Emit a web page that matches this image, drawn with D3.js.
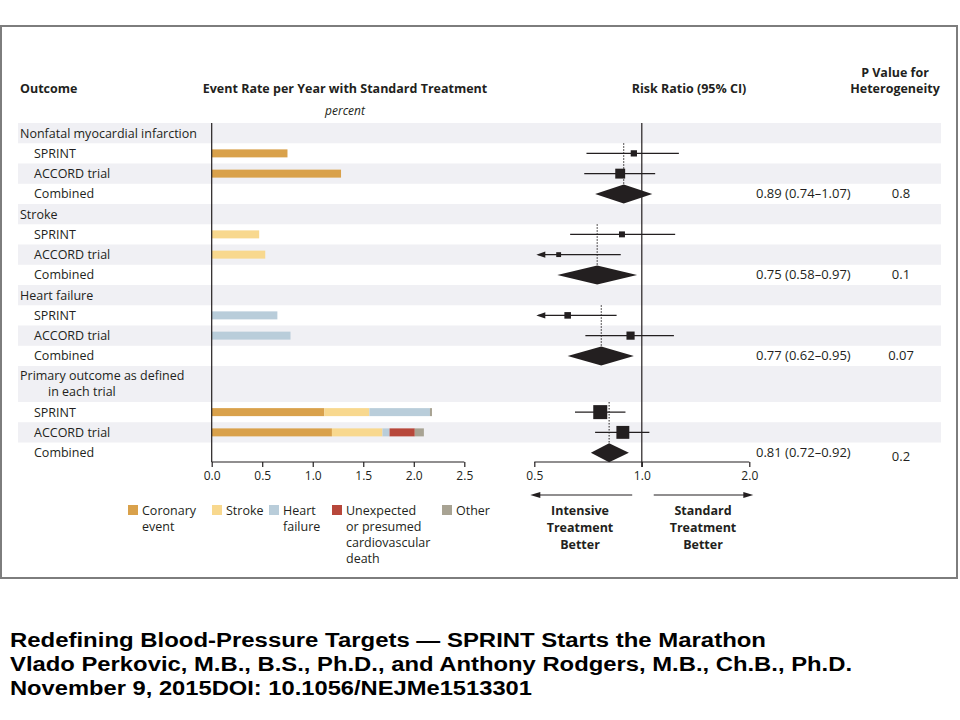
<!DOCTYPE html>
<html>
<head>
<meta charset="utf-8">
<script src="https://cdn.jsdelivr.net/npm/d3@7"></script>
<style>
  body { margin: 0; background: #fff; }
  svg text { font-family: "Open Sans", Lato, sans-serif; fill: #231f20; }
  svg text.caption { font-family: "Liberation Sans", Arial, sans-serif; font-weight: bold; fill: #000; }
</style>
</head>
<body>
<script>
// ---- data ----
var outcomes = ["Nonfatal myocardial infarction", "Stroke", "Heart failure", "Primary outcome as defined\nin each trial"];
var trials = ["SPRINT", "ACCORD trial", "Combined"];
var components = ["Coronary\nevent", "Stroke", "Heart\nfailure", "Unexpected\nor presumed\ncardiovascular\ndeath", "Other"];
var componentColors = ["#d9a14b", "#f8d88e", "#b9cdda", "#b7473a", "#a8a393"];

// event rate per year, standard treatment (percent), per outcome -> [SPRINT, ACCORD]
// single outcomes use one component, the primary outcome is stacked
var outcomeComponent = [0, 1, 2, null];
var singleRates = [[0.75, 1.28], [0.47, 0.53], [0.65, 0.78], null];
var primarySprint = [1.115, 0.445, 0.60, 0.0, 0.02];
var primaryAccord = [1.19, 0.50, 0.07, 0.25, 0.09];

// risk ratios per outcome -> [SPRINT, ACCORD, Combined]
var rrEstimate = [[0.95, 0.87, 0.89], [0.88, 0.585, 0.75], [0.62, 0.93, 0.77], [0.765, 0.885, 0.81]];
var rrLower    = [[0.70, 0.69, 0.74], [0.63, 0.45, 0.58], [0.45, 0.695, 0.62], [0.65, 0.74, 0.72]];
var rrUpper    = [[1.27, 1.09, 1.07], [1.24, 0.873, 0.97], [0.85, 1.23, 0.95], [0.90, 1.05, 0.92]];
var studyWeights = [[20, 50], [18, 12], [22, 34], [100, 85]];
var combinedLabels = ["0.89 (0.74\u20131.07)", "0.75 (0.58\u20130.97)", "0.77 (0.62\u20130.95)", "0.81 (0.72\u20130.92)"];
var pHeterogeneity = ["0.8", "0.1", "0.07", "0.2"];

var rateTicks = [0, 0.5, 1.0, 1.5, 2.0, 2.5];
var rrTicks = [0.5, 1.0, 2.0];

var captionLines = [
	"Redefining Blood-Pressure Targets \u2014 SPRINT Starts the Marathon",
	"Vlado Perkovic, M.B., B.S., Ph.D., and Anthony Rodgers, M.B., Ch.B., Ph.D.",
	"November 9, 2015DOI: 10.1056/NEJMe1513301"
];
var captionWidths = [756, 842, 522];

// ---- layout ----
var ink = "#231f20";
var rowH = 20.25, tallRowH = 36, rowsTop = 123;

var svg = d3.select("body").append("svg").attr("width", 960).attr("height", 720);

svg.append("rect")
	.attr("x", 1).attr("y", 26).attr("width", 956).attr("height", 552)
	.attr("fill", "#fff").attr("stroke", "#7d7d7d").attr("stroke-width", 2);

// build the row list
var rows = [];
var yy = rowsTop;
outcomes.forEach(function(o, i) {
	var h = o.indexOf("\n") >= 0 ? tallRowH : rowH;
	rows.push({ kind: "outcome", i: i, y0: yy, h: h, label: o });
	yy += h;
	trials.forEach(function(t, j) {
		rows.push({ kind: "trial", i: i, j: j, y0: yy, h: rowH, label: t });
		yy += rowH;
	});
});
var rowsBottom = yy - 0.75;

var xRate = d3.scaleLinear().domain([0, 2.5]).range([211.7, 464.3]);
var xRR = d3.scaleLog().domain([0.5, 2]).range([534.3, 749.3]);
var sq = d3.scaleSqrt().domain([0, 100]).range([0, 14]);

// shaded bands
svg.append("g").selectAll("rect")
	.data(rows.filter(function(r, k) { return k % 2 === 0; }))
	.enter().append("rect")
	.attr("x", 18).attr("width", 923)
	.attr("y", function(r) { return r.y0; })
	.attr("height", function(r) { return r.h; })
	.attr("fill", "#f0f0f4");

// headers
var hdr = svg.append("g").attr("font-weight", "bold").attr("font-size", 12.5);
hdr.append("text").attr("x", 20).attr("y", 93).text("Outcome");
hdr.append("text").attr("x", 345).attr("y", 93).attr("text-anchor", "middle").text("Event Rate per Year with Standard Treatment");
hdr.append("text").attr("x", 689).attr("y", 93).attr("text-anchor", "middle").text("Risk Ratio (95% CI)");
hdr.append("text").attr("x", 895).attr("y", 77).attr("text-anchor", "middle").text("P Value for");
hdr.append("text").attr("x", 895).attr("y", 93).attr("text-anchor", "middle").text("Heterogeneity");
svg.append("text").attr("x", 345).attr("y", 115).attr("text-anchor", "middle")
	.attr("font-size", 12).attr("font-style", "italic").text("percent");

// row labels
var lab = svg.append("g").attr("font-size", 12.5);
rows.forEach(function(r) {
	var lines = r.label.split("\n");
	if (lines.length > 1) {
		lines.forEach(function(l, k) {
			lab.append("text").attr("x", k === 0 ? 20 : 48).attr("y", r.y0 + 14 + k * 16).text(l);
		});
	} else {
		lab.append("text").attr("x", r.kind === "outcome" ? 20 : 34)
			.attr("y", r.y0 + r.h / 2 + 4.5).text(r.label);
	}
});

// bars
var bars = svg.append("g");
rows.filter(function(r) { return r.kind === "trial" && r.j < 2; }).forEach(function(r) {
	var cy = r.y0 + r.h / 2;
	var segs;
	if (outcomeComponent[r.i] !== null) {
		segs = [{ c: outcomeComponent[r.i], a: 0, b: singleRates[r.i][r.j] }];
	} else {
		var vals = r.j === 0 ? primarySprint : primaryAccord;
		var acc = 0;
		segs = vals.map(function(v, c) { var s = { c: c, a: acc, b: acc + v }; acc += v; return s; });
	}
	bars.selectAll(null).data(segs.filter(function(s) { return s.b > s.a; }))
		.enter().append("rect")
		.attr("x", function(s) { return xRate(s.a); })
		.attr("width", function(s) { return xRate(s.b) - xRate(s.a); })
		.attr("y", cy - 4).attr("height", 8)
		.attr("fill", function(s) { return componentColors[s.c]; });
});

// bar axes
svg.append("line").attr("x1", xRate(0)).attr("x2", xRate(0)).attr("y1", rowsTop).attr("y2", rowsBottom)
	.attr("stroke", ink).attr("stroke-width", 1.2);
var axRate = svg.append("g").attr("transform", "translate(0," + rowsBottom + ")")
	.call(d3.axisBottom(xRate).tickValues(rateTicks).tickFormat(d3.format(".1f")).tickSize(5).tickPadding(4));
axRate.select(".domain").attr("d", "M" + xRate(0) + ",0H" + xRate(2.5)).attr("stroke", ink).attr("stroke-width", 1.2);
axRate.selectAll(".tick line").attr("stroke", ink).attr("stroke-width", 1.2);
axRate.selectAll("text").attr("font-size", 12).attr("font-family", "'Open Sans', sans-serif").attr("fill", ink);

// forest plot
var forest = svg.append("g");
forest.append("line").attr("x1", xRR(1)).attr("x2", xRR(1)).attr("y1", rowsTop).attr("y2", rowsBottom + 5)
	.attr("stroke", ink).attr("stroke-width", 1.2);

rows.filter(function(r) { return r.kind === "trial"; }).forEach(function(r) {
	var cy = r.y0 + r.h / 2;
	var est = rrEstimate[r.i][r.j], lo = rrLower[r.i][r.j], hi = rrUpper[r.i][r.j];
	if (r.j < 2) {
		var loC = Math.max(lo, 0.5);
		forest.append("line").attr("x1", xRR(loC) + (lo < 0.5 ? 4 : 0)).attr("x2", xRR(hi))
			.attr("y1", cy).attr("y2", cy).attr("stroke", ink).attr("stroke-width", 1.1);
		if (lo < 0.5) {
			var tip = xRR(0.5) + 2;
			forest.append("path")
				.attr("d", "M" + tip + "," + cy + "L" + (tip + 9) + "," + (cy - 3.2) + "L" + (tip + 9) + "," + (cy + 3.2) + "Z")
				.attr("fill", ink);
		}
		var s = sq(studyWeights[r.i][r.j]);
		forest.append("rect").attr("x", xRR(est) - s / 2).attr("y", cy - s / 2)
			.attr("width", s).attr("height", s).attr("fill", ink);
	} else {
		var dh = 9.5;
		var firstTrial = rows.filter(function(q) { return q.kind === "trial" && q.i === r.i && q.j === 0; })[0];
		forest.append("line").attr("x1", xRR(est)).attr("x2", xRR(est))
			.attr("y1", firstTrial.y0).attr("y2", cy - dh)
			.attr("stroke", ink).attr("stroke-width", 1).attr("stroke-dasharray", "1.5,1.5");
		forest.append("path")
			.attr("d", "M" + xRR(lo) + "," + cy + "L" + xRR(est) + "," + (cy - dh) + "L" + xRR(hi) + "," + cy +
				"L" + xRR(est) + "," + (cy + dh) + "Z")
			.attr("fill", ink);
		svg.append("text").attr("x", 756).attr("y", cy + 4.5).attr("font-size", 13).text(combinedLabels[r.i]);
		svg.append("text").attr("x", 901).attr("y", cy + 4.5 + (r.i === 3 ? 4 : 0)).attr("font-size", 13)
			.attr("text-anchor", "middle").text(pHeterogeneity[r.i]);
	}
});

var axRR = svg.append("g").attr("transform", "translate(0," + rowsBottom + ")")
	.call(d3.axisBottom(xRR).tickValues(rrTicks).tickFormat(d3.format(".1f")).tickSize(5).tickPadding(4));
axRR.select(".domain").attr("d", "M" + xRR(0.5) + ",0H" + xRR(2)).attr("stroke", ink).attr("stroke-width", 1.2);
axRR.selectAll(".tick line").attr("stroke", ink).attr("stroke-width", 1.2);
axRR.selectAll("text").attr("font-size", 12).attr("font-family", "'Open Sans', sans-serif").attr("fill", ink);

// direction arrows
var ay = 495;
function arrow(x1, x2) {
	var dir = x2 > x1 ? 1 : -1;
	svg.append("line").attr("x1", x1).attr("x2", x2 - dir * 6).attr("y1", ay).attr("y2", ay)
		.attr("stroke", ink).attr("stroke-width", 1.1);
	svg.append("path").attr("d", "M" + x2 + "," + ay + "L" + (x2 - dir * 10) + "," + (ay - 3) + "L" + (x2 - dir * 10) + "," + (ay + 3) + "Z")
		.attr("fill", ink);
}
arrow(xRR(0.94), xRR(0.5) - 4);
arrow(xRR(1.08), xRR(2) + 4);
var better = svg.append("g").attr("font-weight", "bold").attr("font-size", 12.5).attr("text-anchor", "middle");
["Intensive", "Treatment", "Better"].forEach(function(t, k) {
	better.append("text").attr("x", 580).attr("y", 515 + k * 17).text(t);
});
["Standard", "Treatment", "Better"].forEach(function(t, k) {
	better.append("text").attr("x", 703).attr("y", 515 + k * 17).text(t);
});

// legend
var legendX = [128, 212, 269, 332, 442];
var leg = svg.append("g").attr("font-size", 12.5);
components.forEach(function(c, k) {
	leg.append("rect").attr("x", legendX[k]).attr("y", 505).attr("width", 10).attr("height", 10)
		.attr("fill", componentColors[k]);
	c.split("\n").forEach(function(l, n) {
		leg.append("text").attr("x", legendX[k] + 14).attr("y", 515 + n * 16).text(l);
	});
});

// caption under the figure
captionLines.forEach(function(t, k) {
	svg.append("text").attr("class", "caption").attr("x", 10).attr("y", 647 + k * 24.2)
		.attr("font-size", 20).attr("textLength", captionWidths[k]).attr("lengthAdjust", "spacingAndGlyphs")
		.text(t);
});
</script>
</body>
</html>
